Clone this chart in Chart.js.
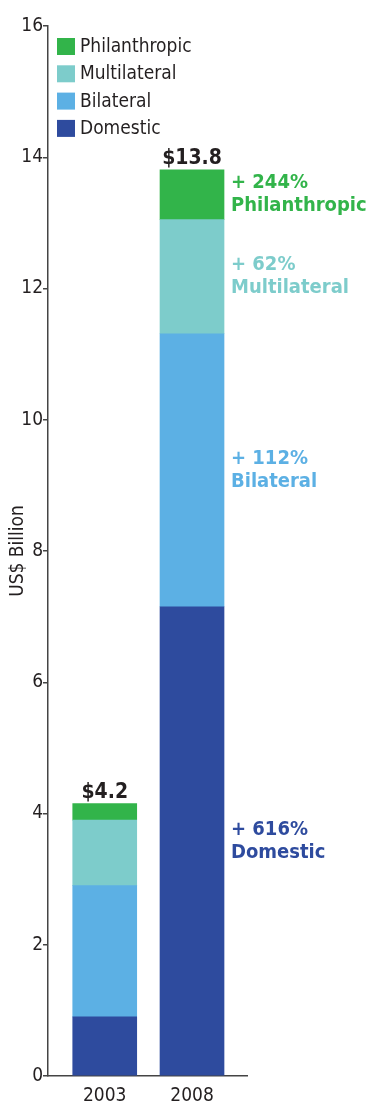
<!DOCTYPE html>
<html>
<head>
<meta charset="utf-8">
<script src="https://cdn.jsdelivr.net/npm/chart.js@4"></script>
<style>
  html, body { margin: 0; padding: 0; background: #fff; }
  #wrap { width: 368px; height: 1101px; }
</style>
</head>
<body>
<div id="wrap"><canvas id="chart" width="368" height="1101"></canvas></div>
<script>
const years = ['2003', '2008'];
const domestic = [0.9, 7.15];
const bilateral = [2.0, 4.16];
const multilateral = [1.0, 1.74];
const philanthropic = [0.25, 0.76];
const totals = ['$4.2', '$13.8'];
const growth = ['+ 616%', '+ 112%', '+ 62%', '+ 244%'];
const yTicks = [0, 2, 4, 6, 8, 10, 12, 14, 16];

const FONT = '"Liberation Sans Narrow", "DejaVu Sans Condensed", "Roboto", sans-serif';
const INK = '#231f20';

const series = [
    { label: 'Domestic', values: domestic, color: '#2e4b9e' },
    { label: 'Bilateral', values: bilateral, color: '#5cb0e4' },
    { label: 'Multilateral', values: multilateral, color: '#7dcccb' },
    { label: 'Philanthropic', values: philanthropic, color: '#32b44a' }
];

// legend, totals above bars and growth notes next to the 2008 bar
const overlay = {
    id: 'overlay',
    afterDatasetsDraw(chart) {
        const { ctx, scales: { x, y } } = chart;
        ctx.save();

        // legend (top of the list is the top of the stack)
        ctx.font = '19px ' + FONT;
        ctx.textBaseline = 'middle';
        ctx.textAlign = 'left';
        const legendTop = y.getPixelForValue(16) + 20;
        [...series].reverse().forEach((s, i) => {
            const cy = legendTop + i * 27.3;
            ctx.fillStyle = s.color;
            ctx.fillRect(57, cy - 8, 18, 17);
            ctx.fillStyle = INK;
            ctx.fillText(s.label, 80, cy + 1);
        });

        // totals
        ctx.font = 'bold 21px ' + FONT;
        ctx.textAlign = 'center';
        ctx.textBaseline = 'alphabetic';
        years.forEach((yr, i) => {
            const sum = series.reduce((a, s) => a + s.values[i], 0);
            ctx.fillStyle = INK;
            ctx.fillText(totals[i], x.getPixelForValue(i + 1), y.getPixelForValue(sum) - 6);
        });

        // growth notes for the last year
        const last = years.length - 1;
        const barRight = x.getPixelForValue(last + 1) + 32;
        ctx.font = 'bold 20px ' + FONT;
        ctx.textAlign = 'left';
        ctx.textBaseline = 'middle';
        let base = 0;
        series.forEach((s, k) => {
            const mid = y.getPixelForValue(base + s.values[last] / 2);
            base += s.values[last];
            ctx.fillStyle = s.color;
            ctx.fillText(growth[k], barRight + 7, mid - 11.5);
            ctx.fillText(s.label, barRight + 7, mid + 11.5);
        });

        ctx.restore();
    }
};

new Chart(document.getElementById('chart'), {
    type: 'bar',
    data: {
        datasets: series.map(s => ({
            label: s.label,
            data: s.values.map((v, i) => ({ x: i + 1, y: v })),
            backgroundColor: s.color,
            borderWidth: 0,
            barThickness: 64
        }))
    },
    options: {
        responsive: false,
        animation: false,
        layout: { padding: { top: 26, right: 121, left: 0, bottom: 0 } },
        plugins: {
            legend: { display: false },
            tooltip: { enabled: false }
        },
        scales: {
            x: {
                type: 'linear',
                stacked: true,
                offset: false,
                min: 0.35,
                max: 2.63,
                afterBuildTicks: scale => { scale.ticks = years.map((_, i) => ({ value: i + 1 })); },
                afterFit: scale => { scale.height = 25; },
                ticks: {
                    callback: v => years[v - 1],
                    color: INK,
                    font: { family: FONT, size: 19 },
                    padding: 1,
                    maxRotation: 0,
                    autoSkip: false
                },
                grid: { display: false },
                border: { display: true, color: '#444', width: 1.5 }
            },
            y: {
                stacked: true,
                min: 0,
                max: 16,
                afterBuildTicks: scale => { scale.ticks = yTicks.map(v => ({ value: v })); },
                afterFit: scale => { scale.width = 48; },
                ticks: {
                    color: INK,
                    font: { family: FONT, size: 19 },
                    padding: 0
                },
                grid: {
                    drawOnChartArea: false,
                    drawTicks: true,
                    tickLength: 5,
                    color: '#444',
                    lineWidth: 1.5
                },
                border: { display: true, color: '#444', width: 1.5 },
                title: {
                    display: true,
                    text: 'US$ Billion',
                    color: INK,
                    font: { family: FONT, size: 19 },
                    padding: { top: 7, bottom: 0 }
                }
            }
        }
    },
    plugins: [overlay]
});
</script>
</body>
</html>
